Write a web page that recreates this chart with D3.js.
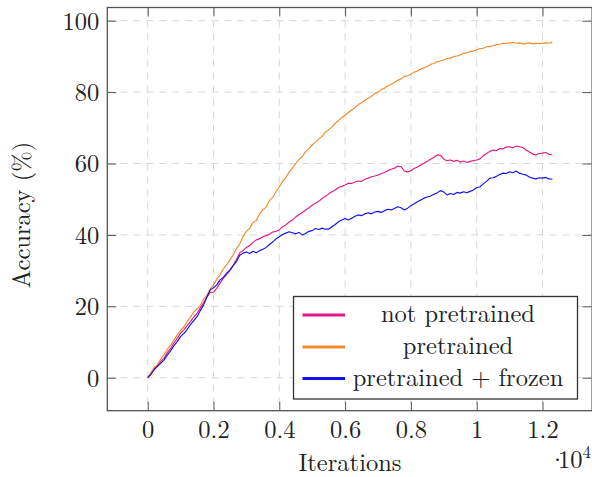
<!DOCTYPE html>
<html>
<head>
<meta charset="utf-8">
<script src="https://cdn.jsdelivr.net/npm/d3@7/dist/d3.min.js"></script>
</head>
<body style="margin:0;padding:0;background:#fff">
<svg id="chart" width="592" height="477" style="display:block"></svg>
<script>
// ---- data (iterations sampled every 100) ----
const iterations = d3.range(0, 12301, 100);

const notPretrained = [
  0, 1.2, 2.5, 3.4, 4.6,
  5.5, 7.1, 8.2, 9.8, 11.0,
  12.5, 13.4, 14.6, 15.7, 17.0,
  18.0, 19.6, 21.0, 22.6, 23.9,
  24.0, 25.1, 26.5, 27.9, 28.9,
  30.0, 31.5, 33.2, 35.0, 35.6,
  36.5, 37.0, 37.9, 38.6, 38.9,
  39.5, 39.8, 40.2, 40.8, 41.0,
  41.4, 42.3, 42.8, 43.6, 44.2,
  45.0, 45.7, 46.3, 47.0, 47.6,
  48.3, 48.9, 49.4, 50.2, 50.8,
  51.5, 52.1, 52.6, 53.3, 53.6,
  54.0, 54.5, 54.4, 54.8, 55.1,
  55.0, 55.6, 55.9, 56.3, 56.5,
  56.8, 57.2, 57.5, 58.0, 58.4,
  58.7, 59.3, 59.1, 57.9, 57.6,
  58.0, 58.6, 59.0, 59.6, 60.1,
  60.6, 61.2, 61.7, 62.4, 62.3,
  61.2, 60.8, 61.0, 60.6, 60.9,
  60.4, 60.7, 60.3, 60.6, 60.8,
  61.0, 61.3, 62.2, 62.8, 63.4,
  63.8, 63.6, 64.2, 64.1, 64.6,
  64.7, 64.4, 64.9, 64.7, 64.5,
  63.8, 63.2, 62.7, 62.4, 62.8,
  62.9, 63.1, 62.6, 62.4
];

const pretrained = [
  0, 1.6, 2.9, 3.7, 5.3,
  6.5, 8.0, 9.1, 10.6, 12.0,
  13.3, 14.2, 15.8, 16.9, 18.4,
  19.3, 20.2, 22.0, 23.1, 24.9,
  26.0, 27.6, 28.8, 30.5, 31.6,
  33.0, 34.4, 36.2, 37.5, 39.6,
  41.0, 41.9, 43.5, 44.0, 45.9,
  47.0, 47.8, 49.6, 50.5, 52.1,
  53.5, 55.0, 56.1, 57.6, 58.7,
  60.0, 61.2, 61.9, 63.4, 64.1,
  65.2, 66.0, 66.9, 67.6, 68.7,
  69.5, 70.2, 71.3, 72.0, 72.9,
  73.5, 74.3, 75.0, 75.6, 76.5,
  77.0, 77.7, 78.3, 78.8, 79.6,
  80.0, 80.7, 81.1, 81.8, 82.2,
  82.7, 83.3, 83.7, 84.4, 84.6,
  85.0, 85.6, 85.9, 86.5, 86.8,
  87.2, 87.8, 88.0, 88.5, 88.7,
  89.0, 89.4, 89.5, 90.0, 90.1,
  90.4, 90.9, 91.0, 91.4, 91.5,
  91.8, 92.2, 92.3, 92.7, 92.8,
  93.0, 93.3, 93.4, 93.7, 93.6,
  93.8, 93.9, 93.7, 93.8, 93.5,
  93.6, 93.8, 93.5, 93.7, 93.6,
  93.7, 93.8, 93.7, 94.0
];

const pretrainedFrozen = [
  0, 0.9, 2.3, 3.2, 4.1,
  5.0, 6.4, 7.6, 9.0, 10.2,
  11.5, 12.4, 13.5, 14.9, 16.0,
  17.1, 18.8, 20.4, 22.6, 24.6,
  25.2, 26.0, 27.4, 28.1, 29.3,
  30.2, 31.4, 32.6, 34.3, 34.9,
  35.2, 34.8, 35.4, 35.0, 35.6,
  36.0, 36.5, 37.3, 38.0, 38.9,
  39.5, 40.1, 40.5, 40.9, 40.6,
  40.3, 40.7, 40.0, 40.4, 41.0,
  41.2, 41.8, 41.5, 41.9, 41.6,
  41.6, 42.3, 42.9, 43.7, 44.2,
  44.6, 44.2, 44.7, 45.2, 45.6,
  45.4, 45.9, 46.2, 45.9, 46.4,
  46.6, 46.3, 46.8, 47.2, 47.0,
  47.4, 47.9, 47.6, 47.0, 47.5,
  48.2, 48.7, 49.3, 49.8, 50.3,
  50.6, 50.9, 51.4, 51.8, 52.4,
  52.0, 51.2, 51.6, 51.3, 51.9,
  51.7, 52.1, 51.8, 52.2, 52.6,
  53.2, 53.5, 54.3, 55.0, 55.9,
  56.0, 56.4, 56.9, 57.3, 57.2,
  57.7, 57.4, 57.9, 57.3, 57.0,
  56.8, 56.2, 55.9, 55.7, 56.0,
  55.9, 56.1, 55.7, 55.6
];

const xTickValues = [0, 2000, 4000, 6000, 8000, 10000, 12000];
const xTickLabels = ["0", "0.2", "0.4", "0.6", "0.8", "1", "1.2"];
const yTickValues = [0, 20, 40, 60, 80, 100];
const yTickLabels = ["0", "20", "40", "60", "80", "100"];

const seriesNames = ["not pretrained", "pretrained", "pretrained + frozen"];
const seriesColors = ["#e3198a", "#f08a2c", "#1212ee"];
const seriesValues = [notPretrained, pretrained, pretrainedFrozen];

const xLabel = "Iterations";
const yLabel = "Accuracy (%)";
const xScaleDot = "·";
const xScaleBase = "10";
const xScaleExp = "4";

// ---- layout ----
const L = 107.3, R = 592.1, T = 7.5, B = 410.7;
const FONT = '"Latin Modern Roman", "Liberation Serif", serif';
const TEXT_COLOR = "#222";
const svg = d3.select("#chart");
const x = d3.scaleLinear().domain([-1228, 13508]).range([L, R]);
const y = d3.scaleLinear().domain([-9.24, 103.7]).range([B, T]);
const FS = 24.5;
const frameColor = "#555";
const tickLen = 9;

function font(sel, size) {
  return sel.style("font-family", FONT).style("font-size", size + "px").style("fill", TEXT_COLOR);
}

// grid
const grid = svg.append("g");
grid.selectAll(".gx").data(xTickValues).join("line")
  .attr("x1", d => x(d)).attr("x2", d => x(d)).attr("y1", T).attr("y2", B)
  .attr("stroke", "#d8d8d8").attr("stroke-width", 1).attr("stroke-dasharray", "7,6");
grid.selectAll(".gy").data(yTickValues).join("line")
  .attr("x1", L).attr("x2", R).attr("y1", d => y(d)).attr("y2", d => y(d))
  .attr("stroke", "#d8d8d8").attr("stroke-width", 1).attr("stroke-dasharray", "7,6");

// data lines
svg.append("clipPath").attr("id", "clip").append("rect")
  .attr("x", L).attr("y", T).attr("width", R - L).attr("height", B - T);
const line = d3.line().x((d, i) => x(iterations[i])).y(d => y(d));
svg.append("g").attr("clip-path", "url(#clip)")
  .selectAll("path").data(seriesValues).join("path")
  .attr("d", d => line(d))
  .attr("fill", "none")
  .attr("stroke", (d, i) => seriesColors[i])
  .attr("stroke-width", 1.15)
  .attr("stroke-linejoin", "round");

// axes (pgfplots style: inward ticks on all sides)
function styleAxis(g) {
  g.select(".domain").remove();
  g.selectAll(".tick line").attr("stroke", frameColor).attr("stroke-width", 1);
  font(g.selectAll(".tick text"), FS);
}
const xb = svg.append("g").attr("transform", `translate(0,${B})`)
  .call(d3.axisBottom(x).tickValues(xTickValues).tickFormat((d, i) => xTickLabels[i]).tickSize(-tickLen).tickPadding(0));
styleAxis(xb);
xb.selectAll(".tick text").attr("y", 27).attr("dy", 0);

const xt = svg.append("g").attr("transform", `translate(0,${T})`)
  .call(d3.axisTop(x).tickValues(xTickValues).tickFormat("").tickSize(-tickLen));
styleAxis(xt);

const yl = svg.append("g").attr("transform", `translate(${L},0)`)
  .call(d3.axisLeft(y).tickValues(yTickValues).tickFormat((d, i) => yTickLabels[i]).tickSize(-tickLen).tickPadding(0));
styleAxis(yl);
yl.selectAll(".tick text").attr("x", -8).attr("dy", 8.3);

const yr = svg.append("g").attr("transform", `translate(${R - 0.6},0)`)
  .call(d3.axisRight(y).tickValues(yTickValues).tickFormat("").tickSize(-tickLen));
styleAxis(yr);

// frame
svg.append("rect").attr("x", L).attr("y", T).attr("width", R - L).attr("height", B - T)
  .attr("fill", "none").attr("stroke", frameColor).attr("stroke-width", 1.3);

// axis labels
font(svg.append("text").attr("x", 350).attr("y", 471).attr("text-anchor", "middle"), FS).text(xLabel);
font(svg.append("text").attr("transform", "translate(30,215) rotate(-90)").attr("text-anchor", "middle"), FS).text(yLabel);
const note = font(svg.append("text").attr("x", 548).attr("y", 468), FS);
note.append("tspan").attr("x", 548).text(xScaleDot);
note.append("tspan").attr("x", 558).text(xScaleBase);
note.append("tspan").attr("x", 582.5).attr("dy", -10).style("font-size", "17px").text(xScaleExp);

// legend
const lg = svg.append("g");
lg.append("rect").attr("x", 293.5).attr("y", 296.5).attr("width", 284).attr("height", 102.5)
  .attr("fill", "#fff").attr("stroke", "#333").attr("stroke-width", 1.3);
const rowY = [315, 347, 378.5];
seriesNames.forEach((name, i) => {
  lg.append("line").attr("x1", 302.5).attr("x2", 345).attr("y1", rowY[i]).attr("y2", rowY[i])
    .attr("stroke", seriesColors[i]).attr("stroke-width", 3.2);
  font(lg.append("text").attr("x", 458).attr("y", rowY[i] + 7).attr("text-anchor", "middle"), FS).text(name);
});
</script>
</body>
</html>
